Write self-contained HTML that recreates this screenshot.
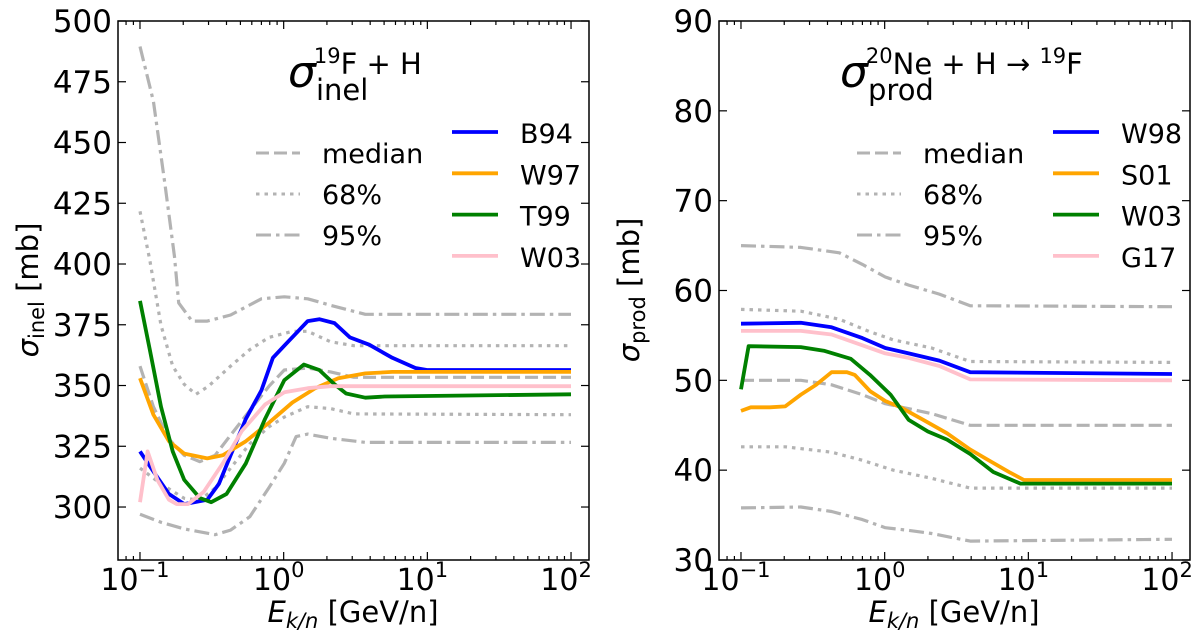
<!DOCTYPE html>
<html><head><meta charset="utf-8">
<style>
html,body{margin:0;padding:0;background:#fff;}
svg{display:block;font-family:"DejaVu Sans","Liberation Sans",sans-serif;}
</style></head>
<body>
<svg id="fig" width="1200" height="638" viewBox="0 0 1200 638" xmlns="http://www.w3.org/2000/svg"></svg>
<script>
// ---------- Left panel data (E in GeV/n, sigma in mb) ----------
const L_u95_E=[0.1,0.124,0.149,0.174,0.186,0.23,0.294,0.427,0.7,1.01,1.47,2.12,3.7,5.04,100];
const L_u95_V=[489.5,467,433,403,384,376.5,376.5,379,385.7,386.5,385.7,383,379.3,379.3,379.3];
const L_l95_E=[0.1,0.14,0.203,0.333,0.427,0.581,0.791,1.01,1.22,1.47,2.12,3.7,100];
const L_l95_V=[297,293.7,291,288.6,290.5,296,308,318,329,330,328.3,326.6,326.6];
const L_u68_E=[0.1,0.117,0.14,0.169,0.203,0.245,0.3,0.427,0.581,0.791,1.15,1.47,2.12,3.08,100];
const L_u68_V=[421.7,401.6,374.8,358,350.5,346.4,349.7,358,364.8,369.8,372.3,372.3,368,366.4,366.4];
const L_l68_E=[0.1,0.14,0.203,0.261,0.333,0.427,0.581,0.791,1.01,1.47,2.12,3.08,100];
const L_l68_V=[316,309.5,303.6,302.8,307.8,316,326,333,337,341.3,340.5,338.3,338];
const L_med_E=[0.1,0.124,0.159,0.203,0.261,0.333,0.427,0.581,0.791,1.01,1.47,2.12,3.08,100];
const L_med_V=[358,341.3,328,321.3,318.7,321.3,329.6,339.7,349.7,356.4,357.2,355.6,353.4,353.4];
const L_B94_E=[0.1,0.124,0.159,0.203,0.294,0.355,0.427,0.546,0.7,0.841,1.01,1.22,1.47,1.77,2.26,2.89,3.94,5.7,8.26,9.93,100];
const L_B94_V=[322.9,314.6,305.4,301.2,303,309.6,321.3,336.3,348,361.4,366.4,371.5,376.5,377.3,375.7,369.8,366.8,361.4,357.2,356.4,356.4];
const L_W97_E=[0.1,0.124,0.159,0.203,0.294,0.377,0.546,0.791,1.15,1.66,2.4,3.7,5.7,100];
const L_W97_V=[353,338,327.1,322,320,321.3,327.1,334.7,343,348.9,353,355,355.6,355.6];
const L_T99_E=[0.1,0.117,0.14,0.169,0.203,0.261,0.313,0.401,0.546,0.743,1.01,1.38,1.77,2.26,2.72,3.7,5.04,100];
const L_T99_V=[384.8,364.8,341.3,322.9,311.2,303.7,302,305.4,318,336.3,352.2,358.6,356.4,350.5,346.7,345,345.5,346.4];
const L_W03_E=[0.1,0.113,0.132,0.159,0.18,0.216,0.277,0.377,0.513,0.743,1.01,1.47,2.12,100];
const L_W03_V=[302,322.9,311.2,303,301.2,301.2,306.2,318,331.4,342.2,347.2,348.9,349.7,349.7];

// ---------- Right panel data ----------
const R_u95_E=[0.1,0.261,0.483,0.7,1.01,1.47,2.4,3.94,5.04,100];
const R_u95_V=[65,64.8,64.2,62.9,61.5,60.6,59.6,58.3,58.3,58.2];
const R_l95_E=[0.1,0.261,0.427,0.7,1.01,1.47,2.12,3.94,100];
const R_l95_V=[35.8,35.9,35.4,34.5,33.6,33.3,32.95,32.1,32.3];
const R_u68_E=[0.1,0.261,0.483,0.791,1.15,2.12,3.94,100];
const R_u68_V=[57.9,57.7,56.8,55.4,54.5,53.6,52.1,52.0];
const R_l68_E=[0.1,0.203,0.427,0.7,1.15,2.12,3.94,100];
const R_l68_V=[42.6,42.6,42.0,41.1,40.0,39.1,38.0,38.0];
const R_med_E=[0.1,0.261,0.427,0.7,1.01,2.12,3.94,100];
const R_med_V=[50,50,49.5,48.4,47.4,46.3,45,45];
const R_W98_E=[0.1,0.261,0.427,0.7,1.01,1.47,2.4,3.94,100];
const R_W98_V=[56.3,56.4,55.9,54.7,53.6,53.0,52.2,50.9,50.7];
const R_G17_E=[0.1,0.261,0.427,0.7,1.01,1.47,2.4,3.94,100];
const R_G17_V=[55.5,55.5,55.1,53.9,53.0,52.5,51.6,50.1,50];
const R_S01_E=[0.1,0.117,0.159,0.203,0.261,0.333,0.427,0.546,0.62,0.791,1.01,1.29,1.86,2.72,3.94,5.04,7.33,9.33,100];
const R_S01_V=[46.6,47.0,47.0,47.1,48.4,49.5,50.9,50.9,50.6,48.8,47.7,47.0,45.6,44.1,42.3,41.3,39.8,38.9,38.9];
const R_W03_E=[0.1,0.113,0.261,0.377,0.581,0.791,1.1,1.47,2.0,2.72,3.94,5.7,8.8,100];
const R_W03_V=[49.0,53.8,53.7,53.3,52.4,50.6,48.4,45.6,44.3,43.4,41.8,39.8,38.5,38.5];

const NS="http://www.w3.org/2000/svg";
const svg=document.getElementById('fig');
function mk(tag,attrs,parent){const e=document.createElementNS(NS,tag);for(const k in attrs)e.setAttribute(k,attrs[k]);(parent||svg).appendChild(e);return e;}

const GRAY="#b3b3b3";
const STY={
 med:{stroke:GRAY,dash:"13 5",w:3.2},
 d68:{stroke:GRAY,dash:"3.5 5",w:3.2},
 d95:{stroke:GRAY,dash:"15 5 3.5 5",w:3.2}
};

function panel(opt){
  const g=mk('g',{});
  
  
  const x0=opt.x0,x1=opt.x0+471,y0=21,y1=560;
  const lxmin=-1.153,lxmax=2.125;
  const X=e=>x0+(Math.log10(e)-lxmin)/(lxmax-lxmin)*(x1-x0);
  const Y=v=>y1-(v-opt.ymin)/(opt.ymax-opt.ymin)*(y1-y0);
  const clip='clip'+opt.x0;
  const cp=mk('clipPath',{id:clip},g);mk('rect',{x:x0,y:y0,width:x1-x0,height:y1-y0},cp);
  const pg=mk('g',{'clip-path':'url(#'+clip+')'},g);
  
  
  function line(E,V,st,name){
    const d=E.map((e,i)=>(i?'L':'M')+X(e).toFixed(1)+','+Y(V[i]).toFixed(1)).join('');
    const p=mk('path',{d:d,fill:'none',stroke:st.stroke,'stroke-width':st.w,'stroke-dasharray':st.dash||'none','stroke-linejoin':'round'},pg);
    
    
  }
  opt.bands.forEach(b=>line(b[0],b[1],STY[b[2]],b[3]));
  opt.series.forEach(s=>line(s[0],s[1],{stroke:s[2],w:3.8},s[3]));
  const fr=mk('rect',{x:x0,y:y0,width:x1-x0,height:y1-y0,fill:'none',stroke:'#000','stroke-width':1.5},g);
  
  
  for(let d=-2;d<=2;d++){
    for(let m=1;m<10;m++){
      const e=m*Math.pow(10,d);const lx=Math.log10(e);
      if(lx<lxmin||lx>lxmax)continue;
      const xx=X(e);const len=m===1?8:4;
      mk('line',{x1:xx,x2:xx,y1:y1,y2:y1-len,stroke:'#000','stroke-width':1.2},g);
      mk('line',{x1:xx,x2:xx,y1:y0,y2:y0+len,stroke:'#000','stroke-width':1.2},g);
      if(m===1){
        const t=mk('text',{x:xx-5,y:590,'font-size':30,'text-anchor':'middle'},g);
        
        
        t.textContent='10';
        const s=mk('tspan',{dy:-13,'font-size':21},t);
        s.textContent=(d<0?'\u2212':'')+Math.abs(d);
      }
    }
  }
  opt.yticks.forEach(v=>{
    const yy=Y(v);
    mk('line',{x1:x0,x2:x0+8,y1:yy,y2:yy,stroke:'#000','stroke-width':1.2},g);
    mk('line',{x1:x1,x2:x1-8,y1:yy,y2:yy,stroke:'#000','stroke-width':1.2},g);
    const t=mk('text',{x:x0-6,y:yy+11,'font-size':31,'text-anchor':'end'},g);
    
    
    t.textContent=v;
  });
  const xt=mk('text',{x:x0+235,y:622,'font-size':29,'text-anchor':'middle'},g);
  
  
  xt.innerHTML='<tspan font-style="italic">E</tspan><tspan font-style="italic" font-size="21" dy="6">k/n</tspan><tspan dy="-6"> [GeV/n]</tspan>';
  const yt=mk('text',{transform:'translate('+(x0-80)+',290) rotate(-90)','font-size':29,'text-anchor':'middle'},g);
  
  
  yt.innerHTML='<tspan font-style="italic">σ</tspan><tspan font-size="21" dy="6">'+opt.ysub+'</tspan><tspan dy="-6"> [mb]</tspan>';
  const an=mk('text',{x:opt.tx,y:87,'font-size':29},g);
  
  
  an.innerHTML=opt.title;
  const lg=mk('g',{},g);
  
  
  [['median','med',153],['68%','d68',194],['95%','d95',235]].forEach(r=>{
    const st=STY[r[1]];
    const l=mk('line',{x1:x0+138,x2:x0+182,y1:r[2],y2:r[2],stroke:st.stroke,'stroke-width':3,'stroke-dasharray':st.dash},lg);
    
    
    const t=mk('text',{x:x0+204,y:r[2]+10,'font-size':27},lg);
    t.textContent=r[0];
  });
  opt.series.forEach((s,i)=>{
    const yy=132+i*41.3;
    const l=mk('line',{x1:x0+334,x2:x0+380,y1:yy,y2:yy,stroke:s[2],'stroke-width':3.8},lg);
    
    
    const t=mk('text',{x:x0+402,y:yy+11,'font-size':27},lg);
    t.textContent=s[4];
  });
}

panel({name:'inelastic-panel',x0:118,ymin:278.2,ymax:500,yticks:[300,325,350,375,400,425,450,475,500],ysub:'inel',tx:288,
 title:'<tspan font-style="italic" font-size="44">σ</tspan><tspan font-size="21" dy="-24" dx="-2">19</tspan><tspan dy="11">F + H</tspan><tspan x="316" dy="26">inel</tspan>',
 bands:[[L_u95_E,L_u95_V,'d95','band-95-upper'],[L_l95_E,L_l95_V,'d95','band-95-lower'],[L_u68_E,L_u68_V,'d68','band-68-upper'],[L_l68_E,L_l68_V,'d68','band-68-lower'],[L_med_E,L_med_V,'med','median-line']],
 series:[[L_B94_E,L_B94_V,'#0000ff','series-b94','B94'],[L_W97_E,L_W97_V,'#ffa500','series-w97','W97'],[L_T99_E,L_T99_V,'#008000','series-t99','T99'],[L_W03_E,L_W03_V,'#ffc0cb','series-w03','W03']]});

panel({name:'production-panel',x0:719,ymin:30,ymax:90,yticks:[30,40,50,60,70,80,90],ysub:'prod',tx:840,
 title:'<tspan font-style="italic" font-size="44">σ</tspan><tspan font-size="21" dy="-24" dx="-2">20</tspan><tspan dy="11">Ne + H → </tspan><tspan font-size="21" dy="-11">19</tspan><tspan dy="11">F</tspan><tspan x="868" dy="26">prod</tspan>',
 bands:[[R_u95_E,R_u95_V,'d95','band-95-upper'],[R_l95_E,R_l95_V,'d95','band-95-lower'],[R_u68_E,R_u68_V,'d68','band-68-upper'],[R_l68_E,R_l68_V,'d68','band-68-lower'],[R_med_E,R_med_V,'med','median-line']],
 series:[[R_W98_E,R_W98_V,'#0000ff','series-w98','W98'],[R_S01_E,R_S01_V,'#ffa500','series-s01','S01'],[R_W03_E,R_W03_V,'#008000','series-w03','W03'],[R_G17_E,R_G17_V,'#ffc0cb','series-g17','G17']]});
</script>
</body></html>
